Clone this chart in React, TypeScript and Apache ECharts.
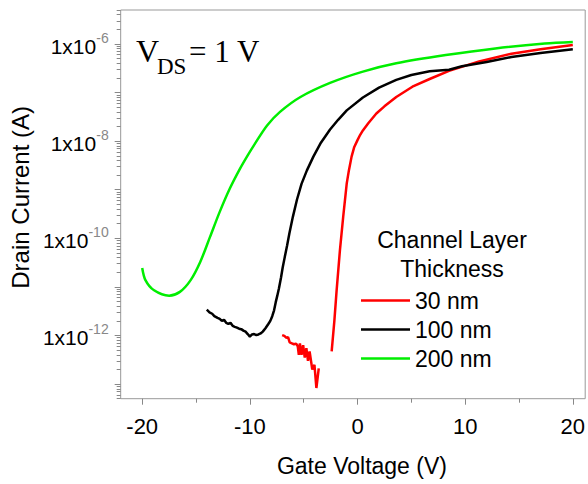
import React, { useEffect, useRef } from "react";
import * as echarts from "echarts";

// ---- Data (gate voltage in V, drain current in A) ----
const greenV = [-20, -19.7, -18.9, -17.5, -16.5, -15.5, -14.6, -13.7, -12.8, -11.85, -10.9, -10.2, -9.55, -8.4, -7.2, -5.3, -2.55, 0.5, 3.6, 8.2, 12.8, 17.4, 20];
const greenI = [2.45e-11, 1.38e-11, 8.5e-12, 6.6e-12, 7.9e-12, 1.38e-11, 3.3e-11, 1.07e-10, 3.5e-10, 1.07e-9, 2.75e-9, 5.1e-9, 8.7e-9, 2.1e-8, 4.0e-8, 8.1e-8, 1.58e-7, 2.7e-7, 4.0e-7, 5.9e-7, 8.1e-7, 1.02e-6, 1.1e-6];

const blackV = [-14.0, -13.75, -13.5, -13.3, -13.0, -12.8, -12.6, -12.4, -12.2, -12.0, -11.8, -11.6, -11.4, -11.2, -11.0, -10.8, -10.6, -10.4, -10.2, -10.0, -9.8, -9.6, -9.4, -9.2, -9.0, -8.8, -8.55, -8.3, -8.1, -7.92, -7.75, -7.6, -7.45, -7.3, -7.1, -6.95, -6.75, -6.54, -6.33, -6.0, -5.62, -5.2, -4.7, -4.1, -3.4, -2.55, -1.8, -1.0, 0.5, 2.0, 3.6, 5.0, 6.7, 8.5, 9.7, 12.0, 14.3, 17.0, 20.0];
const blackI = [3.4e-12, 3.0e-12, 2.8e-12, 2.5e-12, 2.3e-12, 2.2e-12, 2.0e-12, 2.1e-12, 1.82e-12, 1.74e-12, 1.82e-12, 1.58e-12, 1.51e-12, 1.45e-12, 1.38e-12, 1.35e-12, 1.26e-12, 1.2e-12, 1.07e-12, 9.5e-13, 1.05e-12, 1.07e-12, 1.02e-12, 1.05e-12, 1.1e-12, 1.2e-12, 1.41e-12, 1.7e-12, 2.0e-12, 2.5e-12, 3.3e-12, 4.8e-12, 6.6e-12, 9.3e-12, 1.58e-11, 2.5e-11, 4.2e-11, 7.1e-11, 1.26e-10, 2.8e-10, 6.3e-10, 1.32e-9, 2.5e-9, 4.8e-9, 9.3e-9, 1.74e-8, 2.75e-8, 4.3e-8, 7.9e-8, 1.26e-7, 1.82e-7, 2.3e-7, 2.75e-7, 2.95e-7, 3.47e-7, 4.27e-7, 5.4e-7, 6.5e-7, 7.8e-7];

const redV = [-7.0, -6.8, -6.6, -6.45, -6.3, -6.1, -5.9, -5.7, -5.55, -5.45, -5.35, -5.2, -5.05, -4.9, -4.75, -4.6, -4.45, -4.2, -4.0, -3.82, -3.6, -3.0, -2.4, -2.15, -1.94, -1.63, -1.33, -1.0, -0.8, -0.55, -0.3, 0, 0.25, 0.5, 1.0, 1.75, 2.5, 3.6, 5.1, 6.7, 8.5, 11.3, 14.3, 17.0, 20.0];
const redI = [1.02e-12, 9.8e-13, 8.9e-13, 9.3e-13, 7.2e-13, 6.9e-13, 6.6e-13, 6.8e-13, 6.0e-13, 4.0e-13, 6.9e-13, 4.0e-13, 6.3e-13, 3.5e-13, 5.5e-13, 3.0e-13, 4.7e-13, 2.0e-13, 2.5e-13, 8.3e-14, 2.1e-13, null, 4.7e-13, 2.0e-12, 8.5e-12, 5.8e-11, 2.75e-10, 1.35e-9, 2.5e-9, 4.8e-9, 7.6e-9, 1.05e-8, 1.35e-8, 1.66e-8, 2.34e-8, 3.7e-8, 5.2e-8, 8.1e-8, 1.32e-7, 1.9e-7, 2.8e-7, 4.37e-7, 6.3e-7, 7.8e-7, 9.5e-7];

const seriesNames = ["30 nm", "100 nm", "200 nm"];
const xLabelTicks = [-20, -10, 0, 10, 20];
const xMinorTicks = [-15, -5, 5, 15];
const yLabelDecades = [-12, -10, -8, -6];
const yMajorDecades = [-13, -12, -11, -10, -9, -8, -7, -6];
const X_MIN = -22;
const X_MAX = 21.15;
const Y_MIN = 5e-14;
const Y_MAX = 5e-6;

const SANS = '"Liberation Sans", Arial, sans-serif';
const SERIF = '"Liberation Serif", "Times New Roman", serif';
const AXIS_GRAY = "#999999";
const TICK_GRAY = "#888888";

function pairs(xs: number[], ys: (number | null)[]) {
  return xs.map((x, i) => [x, ys[i] === null ? "-" : ys[i]]);
}

export default function App() {
  const ref = useRef<HTMLDivElement>(null);

  useEffect(() => {
    if (!ref.current) return;
    const chart = echarts.init(ref.current, undefined, { renderer: "svg" });
    const lmin = Math.log10(Y_MIN);
    const lmax = Math.log10(Y_MAX);
    const minorY: number[] = [];
    for (let d = -14; d <= -6; d++) {
      for (let k = 2; k <= 9; k++) {
        const v = d + Math.log10(k);
        if (v >= lmin && v <= lmax) minorY.push(v);
      }
    }
    const noLine = { show: false, onZero: false };

    const option: any = {
      animation: false,
      backgroundColor: "#ffffff",
      grid: {
        left: 118.8,
        right: 0,
        top: 10,
        bottom: 85.3,
        show: true,
        borderColor: AXIS_GRAY,
        borderWidth: 1,
        backgroundColor: "transparent",
      },
      xAxis: [
        {
          type: "value",
          min: X_MIN,
          max: X_MAX,
          position: "bottom",
          axisLine: noLine,
          splitLine: { show: false },
          axisTick: { show: true, customValues: xLabelTicks, length: 6, lineStyle: { color: TICK_GRAY } },
          axisLabel: {
            customValues: xLabelTicks,
            margin: 17,
            fontSize: 22,
            fontFamily: SANS,
            color: "#000",
          },
          name: "Gate Voltage (V)",
          nameLocation: "middle",
          nameGap: 56,
          nameTextStyle: { fontSize: 23, fontFamily: SANS, color: "#000", padding: [0, 0, 0, 18] },
        },
        {
          type: "value",
          min: X_MIN,
          max: X_MAX,
          position: "bottom",
          axisLine: noLine,
          splitLine: { show: false },
          axisLabel: { show: false },
          axisTick: { show: true, customValues: xMinorTicks, length: 4, lineStyle: { color: TICK_GRAY } },
        },
      ],
      yAxis: [
        {
          type: "log",
          logBase: 10,
          min: Y_MIN,
          max: Y_MAX,
          show: false,
          axisLine: noLine,
          splitLine: { show: false },
        },
        {
          type: "value",
          min: lmin,
          max: lmax,
          position: "left",
          axisLine: noLine,
          splitLine: { show: false },
          axisTick: { show: true, customValues: yMajorDecades, length: 6, lineStyle: { color: TICK_GRAY } },
          axisLabel: {
            customValues: yLabelDecades,
            margin: 12,
            formatter: (v: number) => `{b|1x10}{s|${v}}`,
            rich: {
              b: { fontSize: 21, fontFamily: SANS, color: "#000", lineHeight: 26, padding: [8, 0, 0, 0], verticalAlign: "bottom" },
              s: { fontSize: 14, fontFamily: SANS, color: "#888", lineHeight: 14, verticalAlign: "top" },
            },
          },
          name: "Drain Current (A)",
          nameLocation: "middle",
          nameGap: 78,
          nameTextStyle: { fontSize: 24, fontFamily: SANS, color: "#000", padding: [0, 0, 0, 14] },
        },
        {
          type: "value",
          min: lmin,
          max: lmax,
          position: "left",
          axisLine: noLine,
          splitLine: { show: false },
          axisLabel: { show: false },
          axisTick: { show: true, customValues: minorY, length: 4, lineStyle: { color: TICK_GRAY } },
        },
      ],
      legend: {
        data: seriesNames,
        orient: "vertical",
        left: 356,
        top: 284,
        icon: "rect",
        itemWidth: 49,
        itemHeight: 2.5,
        itemGap: 6,
        textStyle: { fontSize: 23, fontFamily: SANS, color: "#000", lineHeight: 23 },
        selectedMode: false,
      },
      graphic: [
        {
          type: "text",
          x: 452,
          y: 226,
          style: {
            text: "Channel Layer\nThickness",
            fontSize: 23,
            lineHeight: 28.5,
            fontFamily: SANS,
            fill: "#000",
            align: "center",
            verticalAlign: "top",
          },
        },
        { type: "text", x: 136, y: 51, style: { text: "V", fontSize: 32, fontFamily: SERIF, fill: "#000", verticalAlign: "middle" } },
        { type: "text", x: 157, y: 66, style: { text: "DS", fontSize: 23, fontFamily: SERIF, fill: "#000", verticalAlign: "middle" } },
        { type: "text", x: 189, y: 51, style: { text: "= 1 V", fontSize: 31, fontFamily: SERIF, fill: "#000", verticalAlign: "middle" } },
      ],
      series: [
        {
          name: seriesNames[0],
          type: "line",
          xAxisIndex: 0,
          yAxisIndex: 0,
          data: pairs(redV, redI),
          symbol: "none",
          connectNulls: false,
          lineStyle: { color: "#ff0000", width: 2.5 },
          itemStyle: { color: "#ff0000" },
        },
        {
          name: seriesNames[1],
          type: "line",
          xAxisIndex: 0,
          yAxisIndex: 0,
          data: pairs(blackV, blackI),
          symbol: "none",
          lineStyle: { color: "#000000", width: 2.5 },
          itemStyle: { color: "#000000" },
        },
        {
          name: seriesNames[2],
          type: "line",
          xAxisIndex: 0,
          yAxisIndex: 0,
          data: pairs(greenV, greenI),
          symbol: "none",
          smooth: 0.3,
          lineStyle: { color: "#00ee00", width: 2.5 },
          itemStyle: { color: "#00ee00" },
        },
      ],
    };
    chart.setOption(option);
    return () => chart.dispose();
  }, []);

  return (
    <div
      ref={ref}
      style={{ position: "fixed", left: 0, top: 0, width: 588, height: 484, background: "#fff" }}
    />
  );
}
